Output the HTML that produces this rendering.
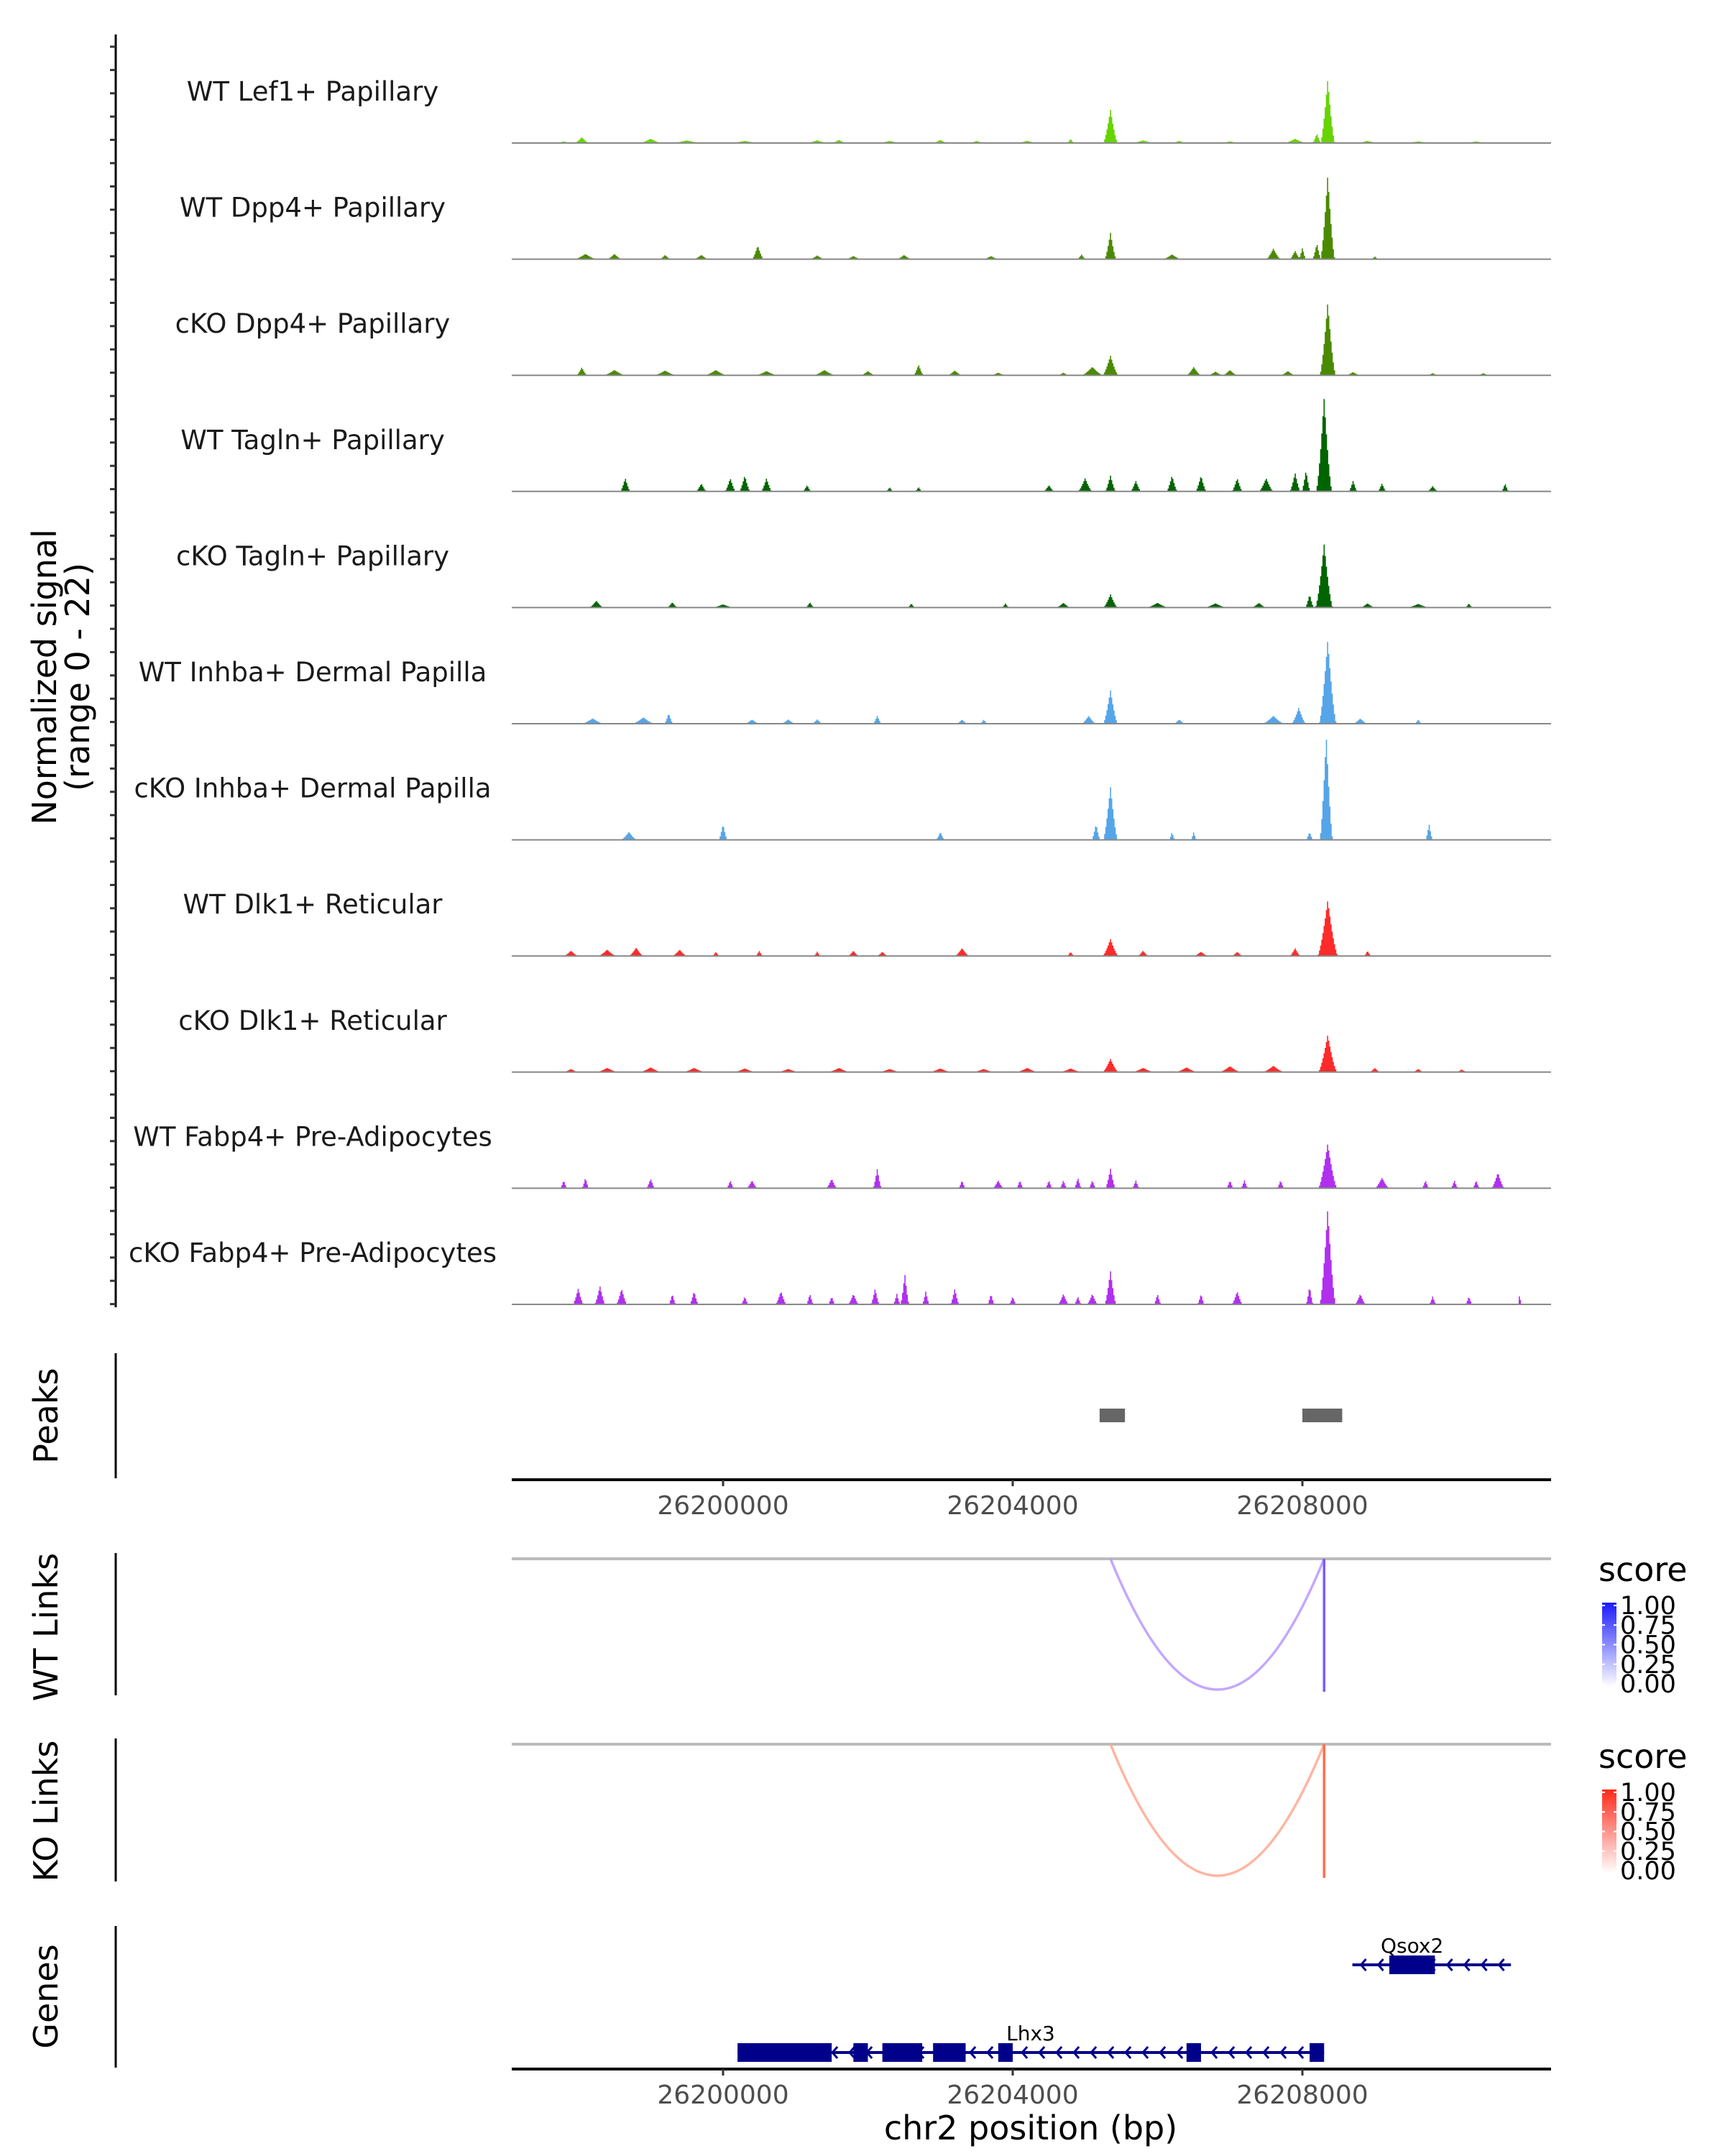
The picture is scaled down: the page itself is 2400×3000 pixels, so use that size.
<!DOCTYPE html>
<html><head><meta charset="utf-8"><style>
html,body{margin:0;padding:0;background:#fff;}
svg{display:block;font-family:"DejaVu Sans","Liberation Sans",sans-serif;}
</style></head><body>
<svg id="fig" width="2400" height="3000" viewBox="0 0 2400 3000" xmlns="http://www.w3.org/2000/svg"></svg>
<script>
// ---- data (positions in kb offset from 26,200,000; values in normalized signal 0-22) ----
const trackNames = ["WT Lef1+ Papillary","WT Dpp4+ Papillary","cKO Dpp4+ Papillary","WT Tagln+ Papillary","cKO Tagln+ Papillary","WT Inhba+ Dermal Papilla","cKO Inhba+ Dermal Papilla","WT Dlk1+ Reticular","cKO Dlk1+ Reticular","WT Fabp4+ Pre-Adipocytes","cKO Fabp4+ Pre-Adipocytes"];
const trackColors = ["#66d400","#4a8a00","#4a8a00","#006400","#006400","#55a5e8","#55a5e8","#ff2a2a","#ff2a2a","#b030ee","#b030ee"];
const sigLef1 = [[5.35,6.3,0.2],[8.35,12,0.2],[8.2,1.8,0.12],[7.9,0.8,0.3],[-1.95,1.1,0.2],[-1.0,0.8,0.3],[-0.5,0.5,0.4],[0.3,0.4,0.4],[1.3,0.5,0.3],[1.6,0.6,0.2],[2.3,0.4,0.3],[3.0,0.6,0.2],[3.5,0.4,0.2],[4.2,0.4,0.3],[4.8,0.8,0.1],[5.8,0.5,0.3],[6.3,0.4,0.2],[7.0,0.3,0.3],[8.9,0.4,0.3],[9.6,0.3,0.4],[10.4,0.3,0.3],[-2.2,0.3,0.2]];
const sigDpp4WT = [[5.35,5,0.16],[8.35,15.8,0.2],[8.2,3,0.12],[0.48,2.6,0.16],[-1.9,1,0.3],[-1.5,1,0.2],[-0.8,0.8,0.15],[-0.3,0.8,0.2],[1.3,0.7,0.2],[1.8,0.6,0.2],[2.5,0.8,0.2],[3.7,0.6,0.2],[4.95,0.9,0.12],[6.2,0.9,0.25],[7.6,2,0.2],[7.9,1.6,0.15],[8.0,2.2,0.1],[9.0,0.5,0.1]];
const sigDpp4cKO = [[8.35,13.7,0.22],[5.35,3.7,0.22],[5.1,1.6,0.3],[2.7,2,0.14],[6.5,1.6,0.2],[7.0,1,0.2],[-1.95,1.5,0.15],[-1.5,1,0.3],[-0.8,0.9,0.3],[-0.1,1,0.3],[0.6,0.8,0.3],[1.4,1,0.3],[2.0,0.8,0.2],[3.2,0.9,0.2],[3.8,0.5,0.2],[6.8,0.7,0.2],[7.8,0.8,0.2],[8.7,0.6,0.2],[9.8,0.4,0.15],[10.5,0.4,0.15],[4.7,0.5,0.15]];
const sigTaglnWT = [[8.3,17.6,0.22],[8.05,4,0.12],[7.9,3.5,0.15],[-1.35,2.5,0.14],[-0.3,1.5,0.15],[0.1,2.5,0.15],[0.3,3,0.15],[0.6,2.5,0.15],[1.16,1.2,0.12],[4.5,1.2,0.15],[5.0,2.5,0.2],[5.35,3,0.15],[5.7,2,0.15],[6.2,3,0.15],[6.6,3,0.15],[7.1,2.5,0.15],[7.5,2.5,0.2],[8.7,2,0.12],[9.1,1.5,0.12],[9.8,1,0.15],[10.8,1.5,0.1],[2.3,0.8,0.1],[2.7,0.8,0.1]];
const sigTaglnCKO = [[8.3,12,0.24],[8.1,2.5,0.12],[5.35,2.5,0.2],[-1.75,1.3,0.2],[-0.7,1,0.15],[1.2,1,0.12],[2.6,0.8,0.1],[3.9,0.8,0.1],[4.7,0.9,0.2],[6.0,0.9,0.3],[6.8,0.8,0.3],[7.4,0.9,0.2],[8.9,0.8,0.2],[9.6,0.7,0.3],[10.3,0.8,0.1],[0.0,0.6,0.3]];
const sigInhbaWT = [[8.35,15.8,0.24],[5.35,6.3,0.2],[5.05,1.5,0.2],[-1.8,1,0.3],[-1.1,1.2,0.3],[-0.75,2,0.12],[0.4,0.8,0.2],[0.9,0.8,0.2],[1.3,0.8,0.15],[2.13,1.5,0.12],[3.3,0.8,0.15],[3.6,0.8,0.1],[6.3,0.8,0.15],[7.6,1.5,0.3],[7.95,3,0.2],[8.8,1,0.2],[9.6,0.8,0.1]];
const sigInhbaCKO = [[8.33,19.7,0.18],[5.35,10,0.2],[5.15,3,0.12],[-1.3,1.5,0.22],[0.0,3,0.12],[3.0,1.5,0.12],[6.2,1.5,0.08],[6.5,1.5,0.08],[8.1,1.5,0.1],[9.75,3,0.1]];
const sigDlk1WT = [[8.35,10.5,0.28],[5.35,3.2,0.22],[-2.1,1,0.2],[-1.6,1.2,0.25],[-1.2,1.6,0.2],[-0.6,1.2,0.2],[-0.1,0.8,0.1],[0.5,1,0.1],[1.3,0.8,0.1],[1.8,1,0.15],[2.2,0.8,0.15],[3.3,1.5,0.2],[5.8,1,0.15],[6.6,0.8,0.2],[7.1,0.8,0.15],[7.9,1.5,0.15],[8.9,1,0.1],[4.8,0.8,0.1]];
const sigDlk1CKO = [[8.35,7,0.26],[5.35,2.5,0.22],[-2.1,0.6,0.2],[-1.6,0.8,0.3],[-1.0,0.9,0.3],[-0.4,0.8,0.3],[0.3,0.7,0.3],[0.9,0.6,0.3],[1.6,0.8,0.3],[2.3,0.6,0.3],[3.0,0.7,0.3],[3.6,0.6,0.3],[4.2,0.8,0.3],[4.8,0.7,0.3],[5.8,0.8,0.3],[6.4,0.9,0.3],[7.0,1.1,0.3],[7.6,1.2,0.3],[9.0,0.8,0.15],[9.6,0.6,0.15],[10.2,0.5,0.15]];
const sigFabp4WT = [[8.35,8.4,0.26],[5.35,3.7,0.14],[2.13,3.7,0.12],[10.7,3,0.18],[-2.2,1.5,0.1],[-1.9,2,0.1],[-1.0,1.8,0.12],[0.1,1.5,0.1],[0.4,1.5,0.15],[1.5,1.8,0.15],[3.3,1.5,0.1],[3.8,1.5,0.15],[4.1,1.5,0.1],[4.5,1.5,0.1],[4.7,1.5,0.1],[4.9,2,0.1],[5.1,1.5,0.1],[5.7,1.5,0.1],[7.0,1.5,0.1],[7.2,1.5,0.1],[7.7,1.5,0.1],[9.1,2,0.2],[9.7,1.5,0.1],[10.1,1.5,0.1],[10.4,1.5,0.1]];
const sigFabp4CKO = [[8.35,18,0.22],[8.1,3.5,0.1],[5.35,6.3,0.16],[5.1,2,0.15],[2.51,5.8,0.12],[1.8,2,0.15],[2.1,3,0.12],[3.2,3,0.12],[-2.0,3,0.15],[-1.7,3.5,0.15],[-1.4,3,0.15],[-0.7,2,0.1],[-0.4,2.5,0.12],[0.8,2.5,0.15],[1.2,2,0.1],[1.5,1.5,0.1],[2.4,2,0.1],[2.8,2.5,0.1],[3.7,2,0.1],[4.0,1.5,0.1],[4.7,2,0.15],[6.0,2,0.1],[6.6,2,0.1],[7.1,2.5,0.15],[8.8,2,0.15],[9.8,1.5,0.1],[10.3,1.5,0.1],[11.0,2,0.05],[0.3,1.5,0.1],[4.9,1.5,0.1]];
const trackSignals = [sigLef1,sigDpp4WT,sigDpp4cKO,sigTaglnWT,sigTaglnCKO,sigInhbaWT,sigInhbaCKO,sigDlk1WT,sigDlk1CKO,sigFabp4WT,sigFabp4CKO];
const peakStarts = [5.2,8.0];
const peakEnds = [5.55,8.55];
const xTicks = [26200000,26204000,26208000];
const linkStarts = [5.35];
const linkEnds = [8.3];
const wtScores = [0.35];
const koScores = [0.35];
const legendTicks = ["1.00","0.75","0.50","0.25","0.00"];
const geneNames = ["Lhx3","Qsox2"];
const geneStarts = [0.2,8.69];
const geneEnds = [8.3,10.88];
const exonStarts = [[0.2,1.8,2.2,2.9,3.8,6.4,8.1],[9.2]];
const exonEnds = [[1.5,2.0,2.75,3.35,4.0,6.6,8.3],[9.83]];
const geneRows = [1,0];

// ---- axes ----
const X0=712, X1=2158, BP0=-2.918, BP1=11.434;
function xs(kb){return X0+(kb-BP0)/(BP1-BP0)*(X1-X0);}
const YMAX=22, TRACK_H=161.6, FIRST_BASE=199;
function ys(i,v){const base=FIRST_BASE+i*TRACK_H;return base - v/YMAX*TRACK_H;}
const NS="http://www.w3.org/2000/svg";
const svg=document.getElementById('fig');
function mk(tag,attrs,parent){const e=document.createElementNS(NS,tag);for(const k in attrs)e.setAttribute(k,attrs[k]);(parent||svg).appendChild(e);return e;}

// left axis + ticks
const la=mk('line',{x1:161,y1:48,x2:161,y2:1819,stroke:'#000','stroke-width':3});


for(let y=65;y<=1816;y+=32.4){const t=mk('line',{x1:153,y1:y,x2:161,y2:y,stroke:'#333','stroke-width':3});

}
const yt=mk('text',{x:0,y:0,'font-size':46,fill:'#000','text-anchor':'middle',transform:'translate(84,942) rotate(-90)'});


mk('tspan',{x:0,dy:-6},yt).textContent='Normalized signal';
mk('tspan',{x:0,dy:46},yt).textContent='(range 0 - 22)';

// tracks
const NB=900;
trackSignals.forEach((sig,i)=>{
  const g=mk('g',{});
  
  
  const vals=[];
  for(let b=0;b<NB;b++){
    const kb=BP0+(b+0.5)/NB*(BP1-BP0);let v=0;
    sig.forEach(p=>{const d=Math.abs(kb-p[0])/(p[2]/2);if(d<1){const c=p[1]*Math.pow(1-d,1.4);if(c>v)v=c;}});
    vals.push(v);
  }
  let d='M'+X0+' '+ys(i,0);
  for(let b=0;b<NB;b++){const xa=X0+b/NB*(X1-X0),xb=X0+(b+1)/NB*(X1-X0);const y=ys(i,vals[b]);d+=' L'+xa.toFixed(1)+' '+y.toFixed(1)+' L'+xb.toFixed(1)+' '+y.toFixed(1);}
  d+=' L'+X1+' '+ys(i,0)+' Z';
  const a=mk('path',{d:d,fill:trackColors[i]},g);
  
  
  const bl=mk('line',{x1:X0,x2:X1,y1:ys(i,0),y2:ys(i,0),stroke:'#888','stroke-width':2},g);
  
  
  const lb=mk('text',{x:435,y:ys(i,0)-59,'font-size':37,'text-anchor':'middle',fill:'#1a1a1a'},g);
  
  
  lb.textContent=trackNames[i];
});

function panelTitle(txt,cy,name){const t=mk('text',{x:0,y:0,'font-size':46,'text-anchor':'middle',fill:'#000',transform:'translate(80,'+cy+') rotate(-90)'});


t.textContent=txt;}
function vline(y1,y2,name){const l=mk('line',{x1:161,x2:161,y1:y1,y2:y2,stroke:'#000','stroke-width':3});

}
function xaxis(y,name){
  const l=mk('line',{x1:X0,x2:X1,y1:y,y2:y,stroke:'#000','stroke-width':4});
  
  
  xTicks.forEach(t=>{const kb=(t-26200000)/1000;const x=xs(kb);
    const tk=mk('line',{x1:x,x2:x,y1:y,y2:y+9,stroke:'#333','stroke-width':3});
    
    
    const tl=mk('text',{x:x,y:y+48,'font-size':36,'text-anchor':'middle',fill:'#4d4d4d'});
    
    
    tl.textContent=t;});
}

// peaks
panelTitle('Peaks',1970,'peaks-title');
vline(1883,2057,'peaks-axis');
peakStarts.forEach((s,i)=>{const r=mk('rect',{x:xs(s),y:1960,width:xs(peakEnds[i])-xs(s),height:19,fill:'#666'});

});
xaxis(2059,'peaks-x-axis');

// links
function links(scores,top,bottom,arcCol,lineCol,title,tcy,name){
  panelTitle(title,tcy,name+'-title');
  vline(top-8,bottom+8,name+'-axis');
  const gl=mk('line',{x1:X0,x2:X1,y1:top,y2:top,stroke:'#bbb','stroke-width':4});
  
  
  linkStarts.forEach((s,i)=>{
    const xa=xs(s),xb=xs(linkEnds[i]);const cy=2*bottom-top;
    const p=mk('path',{d:`M${xa} ${top} Q${(xa+xb)/2} ${cy} ${xb} ${top}`,fill:'none',stroke:arcCol,'stroke-width':3.5,opacity:0.5+scores[i]});
    
    
    const v=mk('line',{x1:xb,x2:xb,y1:top,y2:bottom+3,stroke:lineCol,'stroke-width':3.5});
    
    
  });
}
links(wtScores,2169,2351,'#b898ff','#7a5cff','WT Links',2264,'wt-links');
links(koScores,2427,2610,'#ffa890','#ff6f50','KO Links',2520,'ko-links');

// legends
function legend(y0,col,id,name){
  const t=mk('text',{x:2224,y:y0,'font-size':46,fill:'#000'});
  
  
  t.textContent='score';
  const defs=mk('defs',{});const lg=mk('linearGradient',{id:id,x1:0,y1:1,x2:0,y2:0},defs);
  mk('stop',{offset:0,'stop-color':'#fff'},lg);mk('stop',{offset:1,'stop-color':col},lg);
  const top=y0+30,h=117;
  const r=mk('rect',{x:2229,y:top,width:20,height:h,fill:`url(#${id})`});
  
  
  legendTicks.forEach((lab,k)=>{const y=top+4+k*(h-8)/4;
    mk('line',{x1:2229,x2:2233,y1:y,y2:y,stroke:'#fff','stroke-width':2});
    mk('line',{x1:2245,x2:2249,y1:y,y2:y,stroke:'#fff','stroke-width':2});
    const tl=mk('text',{x:2254,y:y+12,'font-size':35,fill:'#000'});
    
    
    tl.textContent=lab;});
}
legend(2200,'#1a1aff','gwt','wt-score-legend');
legend(2460,'#ff2a1a','gko','ko-score-legend');

// genes
panelTitle('Genes',2778,'genes-title');
vline(2680,2877,'genes-axis');
const rowY=[2734,2856];
geneNames.forEach((gname,i)=>{
  const g=mk('g',{});
  
  
  const y=rowY[geneRows[i]];const xa=xs(geneStarts[i]),xb=xs(geneEnds[i]);
  mk('line',{x1:xa,x2:xb,y1:y,y2:y,stroke:'#00008b','stroke-width':4},g);
  for(let x=xa+12;x<xb-6;x+=24){mk('path',{d:`M${x+7} ${y-8} L${x} ${y} L${x+7} ${y+8}`,fill:'none',stroke:'#00008b','stroke-width':3},g);}
  exonStarts[i].forEach((s,k)=>{const r=mk('rect',{x:xs(s),y:y-13,width:xs(exonEnds[i][k])-xs(s),height:26,fill:'#00008b'},g);
    
    });
  const lx = i===0 ? 1434 : (xs(exonStarts[i][0])+xs(exonEnds[i][0]))/2;
  const t=mk('text',{x:lx,y:y-17,'font-size':28,'text-anchor':'middle',fill:'#000'},g);
  
  
  t.textContent=gname;
});
xaxis(2879,'genes-x-axis');
const xt=mk('text',{x:1434,y:2977,'font-size':46,'text-anchor':'middle',fill:'#000'});


xt.textContent='chr2 position (bp)';
</script>
</body></html>
